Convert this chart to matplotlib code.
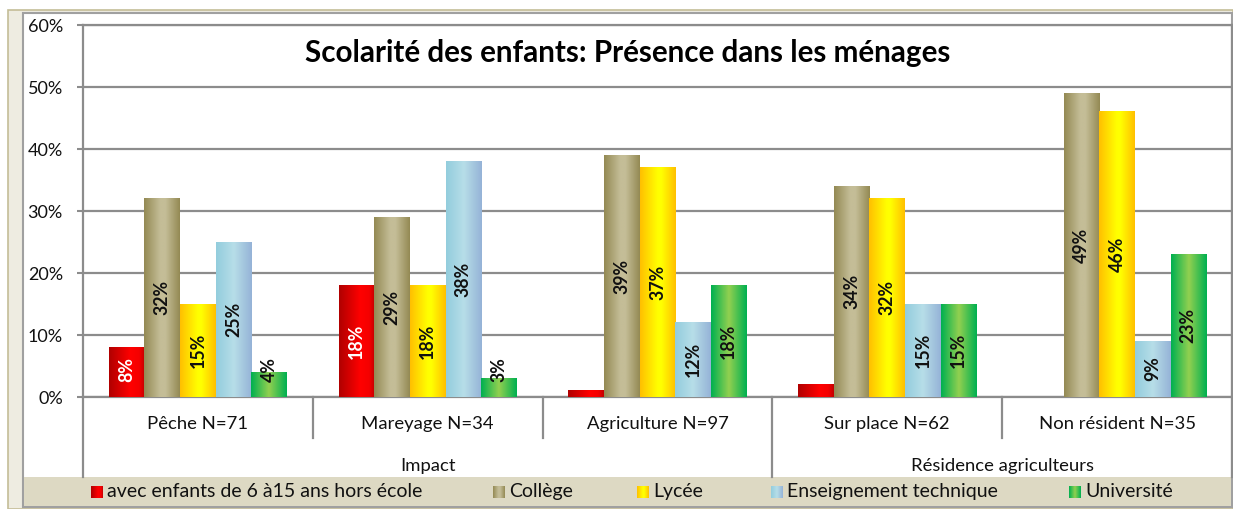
import numpy as np
import matplotlib.pyplot as plt
from matplotlib.colors import to_rgb
from matplotlib.patches import Rectangle

# données
categories = ['Pêche N=71', 'Mareyage N=34', 'Agriculture N=97', 'Sur place N=62', 'Non résident N=35']
groups = ['Impact', 'Résidence agriculteurs']
group_sizes = [3, 2]
series = ['avec enfants de 6 à15 ans hors école', 'Collège', 'Lycée',
          'Enseignement technique', 'Université']
hors_ecole = [8, 18, 1, 2, 0]
college = [32, 29, 39, 34, 49]
lycee = [15, 18, 37, 32, 46]
technique = [25, 38, 12, 15, 9]
universite = [4, 3, 18, 15, 23]
values = [hors_ecole, college, lycee, technique, universite]
yticks = [0, 10, 20, 30, 40, 50, 60]

# dégradés "cylindre" façon Excel
grads = [
    [(0, '#B00000'), (0.6, '#FF0000'), (0.85, '#F40000'), (1, '#C40000')],
    [(0, '#948A54'), (0.45, '#C4BD97'), (0.6, '#C4BD97'), (1, '#948A54')],
    [(0, '#FFC000'), (0.5, '#FFFF00'), (0.6, '#FFFF00'), (1, '#FFC000')],
    [(0, '#93CDDD'), (0.5, '#B7DEE8'), (1, '#95B3D7')],
    [(0, '#00B050'), (0.5, '#92D050'), (1, '#00B050')],
]
label_colors = ['white', '#111111', '#111111', '#111111', '#111111']

plt.rcParams['font.family'] = ['Lato', 'DejaVu Sans']

W, H = 1233, 509
AX_L, AX_R, AX_T, AX_B = 83, 1232, 25, 397
GRID = '#8C8C8C'


def gradient(stops, n=64):
    pos = [s[0] for s in stops]
    cols = np.array([to_rgb(s[1]) for s in stops])
    t = np.linspace(0, 1, n)
    g = np.stack([np.interp(t, pos, cols[:, k]) for k in range(3)], axis=-1)
    return g[None, :, :]


fig = plt.figure(figsize=(W / 100, H / 100), dpi=100)

# fond / cadre en pixels
bg = fig.add_axes([0, 0, 1, 1], zorder=0)
bg.set_xlim(0, W)
bg.set_ylim(H, 0)
bg.axis('off')
bg.add_patch(Rectangle((8, 10), W - 8, H - 10, facecolor='#EEECE1', edgecolor='#C4BD97', lw=1.2))
bg.add_patch(Rectangle((23, 12.5), 1209, 494, facecolor='white', edgecolor='#A0A0A0', lw=1.5))
bg.add_patch(Rectangle((23.7, 477), 1207.6, 29, facecolor='#DDD9C3', edgecolor='none'))

# légende
leg_swatch = [91, 493, 637, 771, 1069]
for k, name in enumerate(series):
    x0 = leg_swatch[k]
    bg.imshow(gradient(grads[k]), extent=(x0, x0 + 12, 498, 486), aspect='auto',
              interpolation='bilinear', zorder=3)
    bg.text(x0 + 16, 491.5, name, fontsize=14, va='center', ha='left', color='#111111')

# titre (centré sur le panneau)
bg.text(628, 53, 'Scolarité des enfants: Présence dans les ménages', ha='center', va='center',
        fontsize=21.3, fontweight='bold', color='black', zorder=5)
bg.set_xlim(0, W)
bg.set_ylim(H, 0)

ax = fig.add_axes([AX_L / W, 1 - AX_B / H, (AX_R - AX_L) / W, (AX_B - AX_T) / H], zorder=1)
ax.set_facecolor('none')

n = len(series)
bw = 0.155
x = np.arange(len(categories)) + 0.5
for k in range(n):
    off = (k - (n - 1) / 2) * bw
    bars = ax.bar(x + off, values[k], width=bw, facecolor='none', edgecolor='none', zorder=3)
    g = gradient(grads[k])
    for b, v in zip(bars, values[k]):
        if v <= 0:
            continue
        bx, bwid, bh = b.get_x(), b.get_width(), b.get_height()
        ax.imshow(g, extent=(bx, bx + bwid, 0, bh), aspect='auto',
                  interpolation='bilinear', zorder=3)
        if v >= 3:
            ax.text(bx + bwid / 2, max(v / 2, 4.4), f'{v}%', rotation=90, ha='center', va='center',
                    fontsize=12.8, fontweight='bold', color=label_colors[k], zorder=4)

ax.set_xlim(0, len(categories))
ax.set_ylim(0, 60)
ax.set_yticks(yticks)
ax.set_yticklabels([f'{t}%' for t in yticks], fontsize=13, color='#111111')
ax.set_xticks([])
ax.yaxis.grid(True, color=GRID, lw=1.6)
ax.set_axisbelow(True)
ax.tick_params(axis='y', length=4.5, width=1.5, color=GRID, pad=10)
for s in ax.spines.values():
    s.set_color(GRID)
    s.set_linewidth(1.6)

# axe des catégories (multi-niveaux)
trans = ax.get_xaxis_transform()
ah = AX_B - AX_T
short = -(438 - AX_B) / ah
long_ = -(477 - AX_B) / ah
bounds = [0]
for sz in group_sizes:
    bounds.append(bounds[-1] + sz)
for i in range(len(categories) + 1):
    ybot = long_ if i in bounds else short
    ax.plot([i, i], [0, ybot], transform=trans, color=GRID, lw=1.6, clip_on=False)
for i, c in enumerate(categories):
    ax.text(i + 0.5, -(424 - AX_B) / ah, c, transform=trans, ha='center', va='center',
            fontsize=13.3, color='#111111')
for j, gname in enumerate(groups):
    ax.text((bounds[j] + bounds[j + 1]) / 2, -(466 - AX_B) / ah, gname, transform=trans,
            ha='center', va='center', fontsize=13.3, color='#111111')

fig.savefig('out.png', dpi=100)
